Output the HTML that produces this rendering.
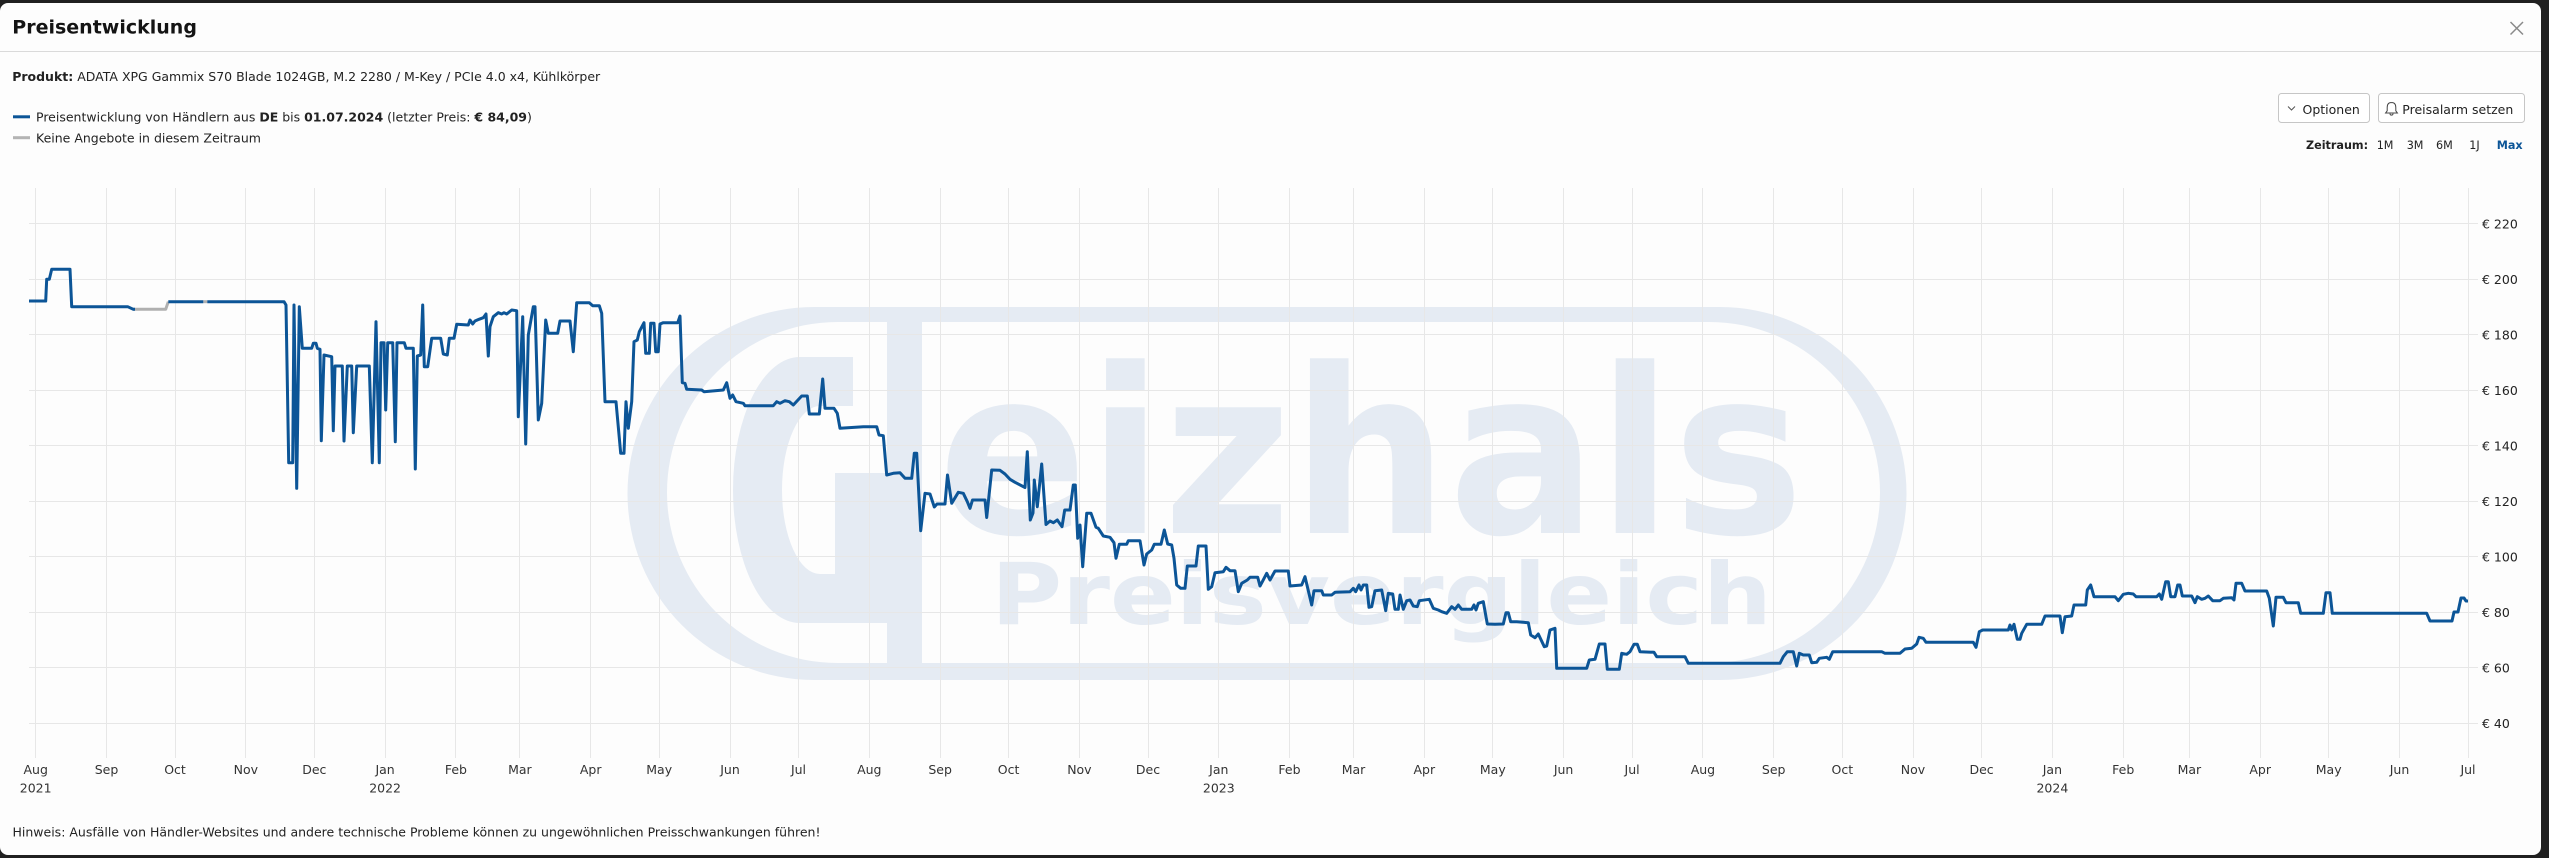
<!DOCTYPE html>
<html>
<head>
<meta charset="utf-8">
<style>
  html,body{margin:0;padding:0;}
  body{width:2549px;height:858px;background:#202020;overflow:hidden;position:relative;}
  .modal{position:absolute;left:0;top:3px;width:2541px;height:852px;background:#fdfdfd;border-radius:8px;}
  svg{position:absolute;left:0;top:0;}
</style>
</head>
<body>
<div class="modal"></div>
<svg width="2549" height="858" viewBox="0 0 2549 858" xmlns="http://www.w3.org/2000/svg" font-family="'DejaVu Sans', 'Liberation Sans', sans-serif">
  <!-- header -->
  <text x="12.3" y="33.3" font-size="19" font-weight="bold" fill="#141414">Preisentwicklung</text>
  <line x1="2510.5" y1="22" x2="2523" y2="34.5" stroke="#8a8a8a" stroke-width="1.5"/>
  <line x1="2523" y1="22" x2="2510.5" y2="34.5" stroke="#8a8a8a" stroke-width="1.5"/>
  <rect x="0" y="51" width="2541" height="1" fill="#dadada"/>

  <text x="12.2" y="81" font-size="12.5" fill="#222"><tspan font-weight="bold">Produkt:</tspan> ADATA XPG Gammix S70 Blade 1024GB, M.2 2280 / M-Key / PCIe 4.0 x4, Kühlkörper</text>

  <!-- legend -->
  <rect x="13" y="115.3" width="17" height="3" fill="#0c5597"/>
  <text x="36" y="121.5" font-size="12.5" fill="#222">Preisentwicklung von Händlern aus <tspan font-weight="bold">DE</tspan> bis <tspan font-weight="bold">01.07.2024</tspan> (letzter Preis: <tspan font-weight="bold">€ 84,09</tspan>)</text>
  <rect x="13" y="136.2" width="17" height="3" fill="#b4b4b4"/>
  <text x="36" y="142.5" font-size="12.5" fill="#222">Keine Angebote in diesem Zeitraum</text>

  <!-- buttons -->
  <rect x="2278.5" y="93.5" width="91" height="29" rx="3" fill="#fff" stroke="#c6c6c6"/>
  <polyline points="2288,106.5 2291.5,110 2295,106.5" fill="none" stroke="#555" stroke-width="1"/>
  <text x="2302.5" y="114" font-size="12.5" fill="#222">Optionen</text>
  <rect x="2378.5" y="93.5" width="146" height="29" rx="3" fill="#fff" stroke="#c6c6c6"/>
  <path d="M2391.5,102.5 c-3,0 -4.3,2.2 -4.3,5 v3.3 l-1.6,2.2 h11.8 l-1.6,-2.2 v-3.3 c0,-2.8 -1.3,-5 -4.3,-5 z" fill="none" stroke="#444" stroke-width="1"/>
  <path d="M2390,113.6 a1.5,1.5 0 0 0 3,0" fill="none" stroke="#444" stroke-width="1"/>
  <text x="2402.3" y="114" font-size="12.5" fill="#222">Preisalarm setzen</text>

  <!-- zeitraum -->
  <text y="149.2" font-size="11.2" fill="#222">
    <tspan x="2306" font-weight="bold">Zeitraum:</tspan>
    <tspan x="2376.7">1M</tspan>
    <tspan x="2406.7">3M</tspan>
    <tspan x="2436">6M</tspan>
    <tspan x="2469.3">1J</tspan>
    <tspan x="2496.7" font-weight="bold" fill="#0c5597">Max</tspan>
  </text>

  <!-- watermark -->
  <g fill="#e5ebf3">
    <path fill-rule="evenodd" d="M814,307 H1720 A186.5,186.5 0 0 1 1720,680 H814 A186.5,186.5 0 0 1 814,307 Z M837.5,322 H1709.5 A170.5,170.5 0 0 1 1709.5,663 H837.5 A170.5,170.5 0 0 1 837.5,322 Z"/>
    <path d="M853,357 H800 A67,133 0 0 0 733,490 A67,133 0 0 0 800,623 H887 V473 H835 V574 H820 A38,84 0 0 1 782,490 A38,84 0 0 1 820,406 H853 Z"/>
    <rect x="887" y="315" width="35" height="360"/>
    <text x="938" y="533" font-size="230" font-weight="bold" textLength="866" lengthAdjust="spacingAndGlyphs">eizhals</text>
    <text x="991" y="624" font-size="86" font-weight="bold" textLength="781" lengthAdjust="spacingAndGlyphs">Preisvergleich</text>
  </g>

  <!-- grid -->
  <g stroke="#e7e7e7" stroke-width="1" shape-rendering="crispEdges">
    <line x1="29" x2="2478" y1="223.5" y2="223.5"/>
    <line x1="29" x2="2478" y1="279.5" y2="279.5"/>
    <line x1="29" x2="2478" y1="334.5" y2="334.5"/>
    <line x1="29" x2="2478" y1="390.5" y2="390.5"/>
    <line x1="29" x2="2478" y1="445.5" y2="445.5"/>
    <line x1="29" x2="2478" y1="501.5" y2="501.5"/>
    <line x1="29" x2="2478" y1="556.5" y2="556.5"/>
    <line x1="29" x2="2478" y1="612.5" y2="612.5"/>
    <line x1="29" x2="2478" y1="667.5" y2="667.5"/>
    <line x1="29" x2="2478" y1="723.5" y2="723.5"/>
  </g>
  <g stroke="#e7e7e7" stroke-width="1" shape-rendering="crispEdges">
    <line y1="188" y2="758" x1="35.5" x2="35.5"/>
    <line y1="188" y2="758" x1="106.5" x2="106.5"/>
    <line y1="188" y2="758" x1="175.5" x2="175.5"/>
    <line y1="188" y2="758" x1="245.5" x2="245.5"/>
    <line y1="188" y2="758" x1="314.5" x2="314.5"/>
    <line y1="188" y2="758" x1="385.5" x2="385.5"/>
    <line y1="188" y2="758" x1="455.5" x2="455.5"/>
    <line y1="188" y2="758" x1="519.5" x2="519.5"/>
    <line y1="188" y2="758" x1="590.5" x2="590.5"/>
    <line y1="188" y2="758" x1="659.5" x2="659.5"/>
    <line y1="188" y2="758" x1="730.5" x2="730.5"/>
    <line y1="188" y2="758" x1="798.5" x2="798.5"/>
    <line y1="188" y2="758" x1="869.5" x2="869.5"/>
    <line y1="188" y2="758" x1="940.5" x2="940.5"/>
    <line y1="188" y2="758" x1="1008.5" x2="1008.5"/>
    <line y1="188" y2="758" x1="1079.5" x2="1079.5"/>
    <line y1="188" y2="758" x1="1148.5" x2="1148.5"/>
    <line y1="188" y2="758" x1="1218.5" x2="1218.5"/>
    <line y1="188" y2="758" x1="1289.5" x2="1289.5"/>
    <line y1="188" y2="758" x1="1353.5" x2="1353.5"/>
    <line y1="188" y2="758" x1="1424.5" x2="1424.5"/>
    <line y1="188" y2="758" x1="1492.5" x2="1492.5"/>
    <line y1="188" y2="758" x1="1563.5" x2="1563.5"/>
    <line y1="188" y2="758" x1="1632.5" x2="1632.5"/>
    <line y1="188" y2="758" x1="1702.5" x2="1702.5"/>
    <line y1="188" y2="758" x1="1773.5" x2="1773.5"/>
    <line y1="188" y2="758" x1="1842.5" x2="1842.5"/>
    <line y1="188" y2="758" x1="1913.5" x2="1913.5"/>
    <line y1="188" y2="758" x1="1981.5" x2="1981.5"/>
    <line y1="188" y2="758" x1="2052.5" x2="2052.5"/>
    <line y1="188" y2="758" x1="2123.5" x2="2123.5"/>
    <line y1="188" y2="758" x1="2189.5" x2="2189.5"/>
    <line y1="188" y2="758" x1="2260.5" x2="2260.5"/>
    <line y1="188" y2="758" x1="2328.5" x2="2328.5"/>
    <line y1="188" y2="758" x1="2399.5" x2="2399.5"/>
    <line y1="188" y2="758" x1="2468.5" x2="2468.5"/>
  </g>

  <!-- y labels -->
  <g font-size="12.5" fill="#222">
    <text x="2482" y="228.5">€ 220</text>
    <text x="2482" y="284">€ 200</text>
    <text x="2482" y="339.5">€ 180</text>
    <text x="2482" y="395">€ 160</text>
    <text x="2482" y="450.5">€ 140</text>
    <text x="2482" y="506">€ 120</text>
    <text x="2482" y="561.5">€ 100</text>
    <text x="2482" y="617">€ 80</text>
    <text x="2482" y="672.5">€ 60</text>
    <text x="2482" y="728">€ 40</text>
  </g>

  <!-- x labels -->
  <g font-size="12.5" fill="#333" text-anchor="middle">
    <text x="35.7" y="774">Aug</text><text x="35.7" y="792.3">2021</text>
    <text x="106.5" y="774">Sep</text>
    <text x="175" y="774">Oct</text>
    <text x="245.8" y="774">Nov</text>
    <text x="314.3" y="774">Dec</text>
    <text x="385.1" y="774">Jan</text><text x="385.1" y="792.3">2022</text>
    <text x="455.9" y="774">Feb</text>
    <text x="519.9" y="774">Mar</text>
    <text x="590.7" y="774">Apr</text>
    <text x="659.2" y="774">May</text>
    <text x="730" y="774">Jun</text>
    <text x="798.5" y="774">Jul</text>
    <text x="869.3" y="774">Aug</text>
    <text x="940.1" y="774">Sep</text>
    <text x="1008.6" y="774">Oct</text>
    <text x="1079.4" y="774">Nov</text>
    <text x="1148" y="774">Dec</text>
    <text x="1218.8" y="774">Jan</text><text x="1218.8" y="792.3">2023</text>
    <text x="1289.5" y="774">Feb</text>
    <text x="1353.5" y="774">Mar</text>
    <text x="1424.3" y="774">Apr</text>
    <text x="1492.8" y="774">May</text>
    <text x="1563.6" y="774">Jun</text>
    <text x="1632.1" y="774">Jul</text>
    <text x="1702.9" y="774">Aug</text>
    <text x="1773.7" y="774">Sep</text>
    <text x="1842.3" y="774">Oct</text>
    <text x="1913" y="774">Nov</text>
    <text x="1981.6" y="774">Dec</text>
    <text x="2052.4" y="774">Jan</text><text x="2052.4" y="792.3">2024</text>
    <text x="2123.2" y="774">Feb</text>
    <text x="2189.4" y="774">Mar</text>
    <text x="2260.2" y="774">Apr</text>
    <text x="2328.7" y="774">May</text>
    <text x="2399.5" y="774">Jun</text>
    <text x="2468" y="774">Jul</text>
  </g>

  <!-- series -->
  <g fill="none" stroke-width="3" stroke-linejoin="round" stroke-linecap="butt">
    <polyline stroke="#b0b0b0" points="133,309.3 165.7,309.3 168.3,301.7"/>
    <polyline stroke="#b0b0b0" points="203.3,301.7 207.3,301.7"/>
    <polyline stroke="#0c5597" points="29,301 45.7,301 46.7,279.3 49.3,279.3 51.7,269.3 70,269.3 71.7,306.7 127.7,306.7 133.3,309.3 135,309.3"/>
    <polyline stroke="#0c5597" points="168.3,301.7 203.3,301.7"/>
    <polyline stroke="#0c5597" points="207.3,301.7 284,301.7 286,305 288.7,462.7 292.7,462.7 294,305 296.7,488.3 299.3,306.7 302.3,348.3 311.7,348.3 313.3,343.3 316,343.3 317.3,348.3 320,349.3 321.3,440.7 324,355 331.7,356.7 333.3,430.7 335,366 342.3,366 344,441 347.3,366 351.7,366 353.3,432.7 356.7,366 369.3,366 372.3,462.7 376,321.7 379.3,462.7 381,342.7 384,342.7 385.7,410 387.7,342.7 392.7,342.7 395.3,441.7 397,342.7 404.3,342.7 406,348.3 413.3,348.3 415.3,469 417.3,356 420.7,355 422.7,305 424.3,366.7 427.7,366.7 431.7,338.3 440.7,338.3 443.3,354 447.3,355 449.3,338.3 454,338.3 456.7,324.3 468.3,325 470,320 472.7,324 475,321 479,319.3 483.3,317.7 486,314 488.3,356 490,326.7 493.3,316.7 498.3,312.7 501.7,314 504,312.7 506.7,314 511.7,310 516.7,310.7 518.3,416.7 522.7,316.7 525.7,444 528.3,335 533.3,306.7 535,306.7 538.3,420 541.7,403.3 545.7,320 548.3,333.3 557.7,333.3 560,321 570,321 573.3,351.7 576.7,302.7 589.3,302.7 592.7,305.7 599.3,305.7 601.7,313.3 605,401.7 616,401.7 620.7,453.3 624,453.3 626,401.7 628.3,428.3 631.7,401.7 634,341.7 637.3,340 639.3,331.7 644,322.7 645.7,353.3 649.3,353.3 650.7,323.3 654,323.3 655.7,351.7 658.3,351.7 660,324 663.3,322.7 677.7,322.7 680,316 682.3,382.7 685,383.3 686.7,389.3 701.7,390 704,391.7 723.3,390 726.7,382.7 730,398.3 732.7,395 736,401.7 743.3,403.3 745,405.7 773.3,405.7 776.7,401.7 780,403.3 785,400.7 789.3,401.7 793.3,405 801.7,396 807.3,396 809.3,414 819.3,414 822.7,379 825,408.3 834,408.3 837.3,413.3 840,428.3 863.3,426.7 876.7,426.7 879,435 883.3,435.7 886.7,475 893.3,473.3 900,472.7 905,478.3 911.7,478.3 914.3,453.3 916.7,453.3 920.7,530.7 925,493.3 930,494 934.3,507 937,504 945,504 947.5,475 951.7,503.3 958.3,492.3 963.3,493.3 967.3,501.7 970,508.3 972.5,500 985,500 986.7,517.5 991.7,470 1000,470.3 1005,474 1010,479.3 1015,482.3 1025,487.5 1027.3,451.7 1030.3,520 1033,513 1034.3,480 1037.3,506.7 1041.7,464 1046,524.5 1050,521 1053.3,522.7 1057.3,520 1062,526.7 1064.7,510 1070,510 1073.3,485 1075.3,485 1077.7,538.3 1080,525 1082.7,566.7 1086.7,513.3 1091,513.3 1096,527.3 1098.3,528.3 1103.3,536 1110,537.3 1114,542.7 1116,558.3 1119.3,544.3 1126.7,544.3 1128.3,540.7 1140,540.7 1144,565 1146.7,554 1151.7,550 1154.3,544.3 1161,544.3 1164.3,530 1167.7,544 1171.7,545 1174,558.3 1176.7,585 1180.7,588.3 1185,588.3 1187.3,566 1196,566 1198.3,546 1206,546 1208.3,589.3 1211.7,586.7 1215,572.7 1223.3,571.7 1226,567.3 1230,570.7 1235,570.7 1238.3,591.7 1241.7,583.3 1247.3,580 1250,577.3 1257.7,577.3 1260,586 1262.7,581 1266.7,573.3 1270,580 1275,571 1288.3,571 1290,586 1301.7,585 1305,576.7 1311.7,605 1314,590.7 1321.7,590.7 1323.3,595 1331.7,595 1335,592.3 1350,591.7 1353.3,588.3 1355.7,591.7 1359,585 1361,590 1363.3,585 1366.7,585 1369,607.3 1371.7,606.7 1375,590.7 1381.7,590 1385.7,610.7 1388.3,593.3 1392.7,594 1395,609.3 1398.3,609.3 1400,595 1403.3,609.3 1406.7,600.7 1410,600 1413.3,606 1417.3,606.7 1419.3,600.7 1429.3,599.3 1433.3,608.3 1438.3,610 1441.7,611.7 1446.7,613.3 1451.7,606.7 1455,609.3 1458.3,605 1461.7,609.3 1471.7,609.3 1474,605 1476,610 1478.3,603.3 1483.3,601.7 1487.3,624 1495,624.3 1503.3,624 1506,612.7 1508.3,612.7 1510.7,621.7 1516.7,621.7 1528.3,622.7 1530.7,635 1535,637.7 1538.3,634 1544.3,646.7 1546.7,646 1550,630 1555,628.3 1556.7,668.3 1586.7,668.3 1589.3,660 1595,659.3 1599.3,644 1605,644 1607.3,669.3 1619.3,669.3 1621.7,653.3 1626.7,654.3 1630,651.7 1634,644.3 1637.3,644.3 1640,651.7 1654,652.3 1656.7,656.7 1685,656.7 1688.3,663.3 1780,663.3 1783.3,656.7 1787.3,651.7 1793.3,651.7 1796.7,666 1799.3,653.3 1803.3,655 1809.3,655 1811.7,662.7 1816.7,662.3 1819.3,658.3 1826.7,657.3 1829.3,659.3 1832.7,651.7 1881.7,651.7 1885,653.3 1900,653.3 1905,649 1911.7,648.3 1916.7,644 1919,637.3 1923.3,638.3 1926,642.3 1973.3,642.3 1976,647.3 1979.3,631.7 1982.7,630 2008.3,630 2010,625 2011.7,630 2014,624.3 2017.3,639.3 2020,639.3 2021.7,633.3 2026.7,624.3 2041.7,624.3 2045,616 2060,616 2062.3,632.7 2065,616.7 2071.7,616 2074,605 2085.7,605 2087.3,590 2090.7,585 2094,596.7 2115,596.7 2118.3,600.7 2123.3,594.3 2128.3,593.3 2133.3,594 2136,596.7 2156.7,596.7 2159.3,594 2161.7,599.3 2165.7,581.7 2168.3,581.7 2170.7,596.7 2175,596.7 2177.7,585 2180,585 2182.3,596 2191.7,596 2195,602.7 2197.3,596.7 2201.7,599.3 2205,598.3 2208.3,596 2212.7,600.7 2220,600.7 2223.3,598.3 2231.7,597.7 2234,600 2236,583.3 2241.7,583.3 2245,591 2266.7,591 2269.3,598.3 2273.3,626 2276,597.3 2283.3,597.3 2286,602.7 2298.3,602.7 2300.7,613.3 2323.3,613.3 2326,592.7 2330,592.7 2332.3,613.3 2426.7,613.3 2430,621 2452,621 2454,612 2458,612 2461,598 2464,598 2466,601 2468,601"/>
  </g>

  <!-- note -->
  <text x="12.5" y="836.5" font-size="12.5" fill="#222">Hinweis: Ausfälle von Händler-Websites und andere technische Probleme können zu ungewöhnlichen Preisschwankungen führen!</text>
</svg>
</body>
</html>
